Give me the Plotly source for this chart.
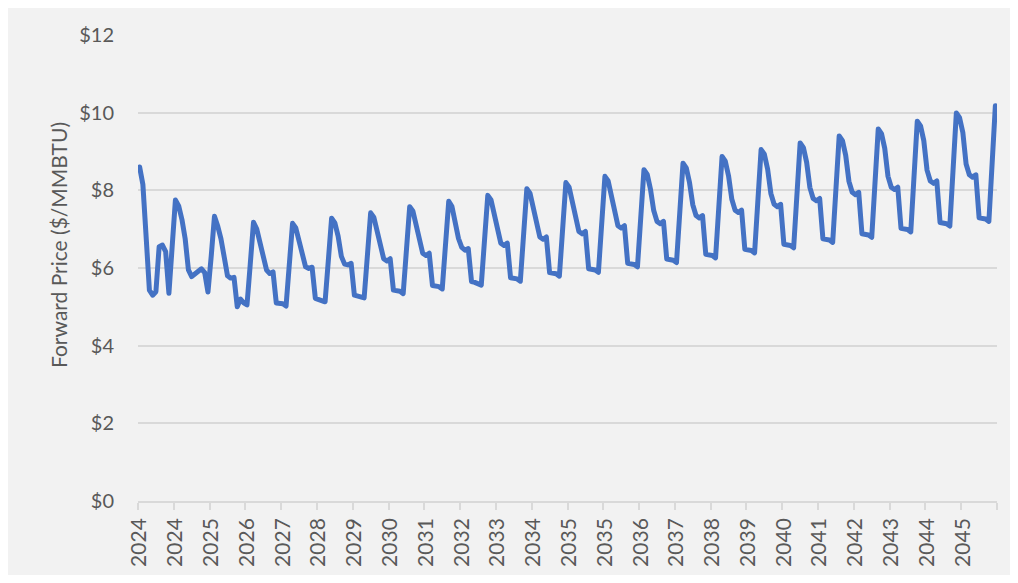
import plotly.graph_objects as go

# Monthly forward price ($/MMBTU), Jan 2024 .. Dec 2045 (one row per year)
price = [
    8.60, 8.15, 6.80, 5.43, 5.30, 5.39, 6.55, 6.59, 6.42, 5.35, 6.55, 7.75,   # 2024
    7.60, 7.25, 6.75, 5.95, 5.78, 5.85, 5.95, 5.98, 5.88, 5.38, 6.30, 7.33,   # 2025
    7.08, 6.75, 6.28, 5.80, 5.74, 5.76, 5.00, 5.20, 5.10, 5.05, 6.10, 7.18,   # 2026
    7.00, 6.68, 6.25, 5.95, 5.86, 5.90, 5.10, 5.10, 5.08, 5.02, 6.10, 7.15,   # 2027
    7.03, 6.70, 6.30, 6.03, 5.99, 6.02, 5.22, 5.20, 5.18, 5.13, 6.20, 7.28,   # 2028
    7.16, 6.82, 6.30, 6.10, 6.08, 6.12, 5.30, 5.28, 5.27, 5.23, 6.32, 7.42,   # 2029
    7.30, 6.94, 6.50, 6.24, 6.18, 6.24, 5.43, 5.41, 5.40, 5.34, 6.45, 7.58,   # 2030
    7.46, 7.08, 6.64, 6.38, 6.32, 6.38, 5.55, 5.53, 5.52, 5.46, 6.60, 7.72,   # 2031
    7.58, 7.15, 6.76, 6.53, 6.46, 6.50, 5.65, 5.63, 5.61, 5.56, 6.72, 7.87,   # 2032
    7.75, 7.37, 6.92, 6.64, 6.58, 6.64, 5.75, 5.73, 5.72, 5.66, 6.85, 8.04,   # 2033
    7.92, 7.54, 7.08, 6.80, 6.74, 6.80, 5.88, 5.86, 5.85, 5.79, 7.00, 8.20,   # 2034
    8.08, 7.70, 7.22, 6.94, 6.88, 6.94, 5.98, 5.96, 5.95, 5.89, 7.15, 8.36,   # 2035
    8.24, 7.86, 7.37, 7.09, 7.03, 7.09, 6.12, 6.10, 6.09, 6.03, 7.30, 8.53,   # 2036
    8.41, 8.03, 7.48, 7.20, 7.14, 7.20, 6.23, 6.21, 6.20, 6.14, 7.44, 8.70,   # 2037
    8.58, 8.20, 7.63, 7.35, 7.29, 7.35, 6.35, 6.33, 6.32, 6.26, 7.58, 8.87,   # 2038
    8.75, 8.37, 7.77, 7.49, 7.43, 7.49, 6.48, 6.46, 6.45, 6.39, 7.74, 9.05,   # 2039
    8.93, 8.55, 7.92, 7.64, 7.58, 7.64, 6.61, 6.59, 6.58, 6.52, 7.89, 9.22,   # 2040
    9.10, 8.72, 8.07, 7.79, 7.73, 7.79, 6.75, 6.73, 6.72, 6.66, 8.05, 9.40,   # 2041
    9.28, 8.90, 8.23, 7.95, 7.89, 7.95, 6.88, 6.86, 6.85, 6.79, 8.20, 9.58,   # 2042
    9.46, 9.08, 8.36, 8.08, 8.02, 8.08, 7.02, 7.00, 6.99, 6.93, 8.37, 9.78,   # 2043
    9.66, 9.28, 8.52, 8.24, 8.18, 8.24, 7.17, 7.15, 7.14, 7.08, 8.55, 9.99,   # 2044
    9.87, 9.49, 8.68, 8.40, 8.34, 8.40, 7.29, 7.27, 7.26, 7.20, 8.70, 10.18,  # 2045
]

# Category axis labels (one label every 11 months, as in the source)
tick_labels = ["2024", "2024", "2025", "2026", "2027", "2028", "2029", "2030",
               "2031", "2032", "2033", "2034", "2035", "2035", "2036", "2037",
               "2038", "2039", "2040", "2041", "2042", "2043", "2044", "2045"]
label_step = 11

y_ticks = [0, 2, 4, 6, 8, 10, 12]
y_title = "Forward Price ($/MMBTU)"

month_index = list(range(len(price)))

FONT = "Lato, 'Open Sans', sans-serif"
TXT = "#595959"
GRID = "#D9D9D9"

fig = go.Figure()
fig.add_trace(go.Scatter(
    x=month_index, y=price, mode="lines",
    line=dict(color="#4472C4", width=5),
    hoverinfo="skip", showlegend=False,
))

# The page body has an 8px margin, so figure coords = page coords - 8
OFF = 8
W, H = 1010, 567
ml, mr, mt, mb = 130, 21, 27, 74
pw, ph = W - ml - mr, H - mt - mb


def px_x(p):  # page px -> paper coords
    return (p - OFF - ml) / pw


def px_y(p):
    return (H - mb - (p - OFF)) / ph


fig.update_layout(
    width=W, height=H,
    margin=dict(l=ml, r=mr, t=mt, b=mb, pad=0, autoexpand=False),
    paper_bgcolor="#FFFFFF",
    plot_bgcolor="rgba(0,0,0,0)",
    font=dict(family=FONT, color=TXT),
    shapes=[dict(type="rect", xref="paper", yref="paper", layer="below",
                 x0=px_x(8), x1=px_x(1012), y0=px_y(583), y1=px_y(8),
                 fillcolor="#F2F2F2", line=dict(width=0))],
    annotations=[dict(text=y_title, xref="paper", yref="paper",
                      x=px_x(58), y=px_y(245), textangle=-90,
                      showarrow=False, xanchor="center", yanchor="middle",
                      font=dict(family=FONT, size=21, color=TXT))],
)

fig.update_xaxes(
    automargin=False,
    range=[-0.5, len(price) - 0.5],
    tickmode="array",
    tickvals=month_index[::label_step][:len(tick_labels)],
    ticktext=tick_labels,
    tickangle=-90,
    ticks="outside", ticklen=7, tickcolor="rgba(0,0,0,0)",
    tickfont=dict(family=FONT, size=21, color=TXT),
    minor=dict(tickmode="linear", tick0=-0.5, dtick=label_step,
               ticks="outside", ticklen=7, tickcolor=GRID, tickwidth=1.5,
               showgrid=False),
    showgrid=False, zeroline=False,
    showline=True, linecolor=GRID, linewidth=1.5,
)

fig.update_yaxes(
    automargin=False,
    range=[0, 12],
    tickmode="array", tickvals=y_ticks,
    ticktext=["$" + str(v) for v in y_ticks],
    ticks="outside", ticklen=19, tickcolor="rgba(0,0,0,0)",
    tickfont=dict(family=FONT, size=20, color=TXT),
    showgrid=True, gridcolor=GRID, gridwidth=1.5,
    zeroline=False, showline=False,
)

fig.write_html(
    "out.html",
    post_script="document.querySelectorAll('.js-line').forEach(function(p){"
                "p.style.strokeLinejoin='round';p.style.strokeLinecap='round';});",
)
